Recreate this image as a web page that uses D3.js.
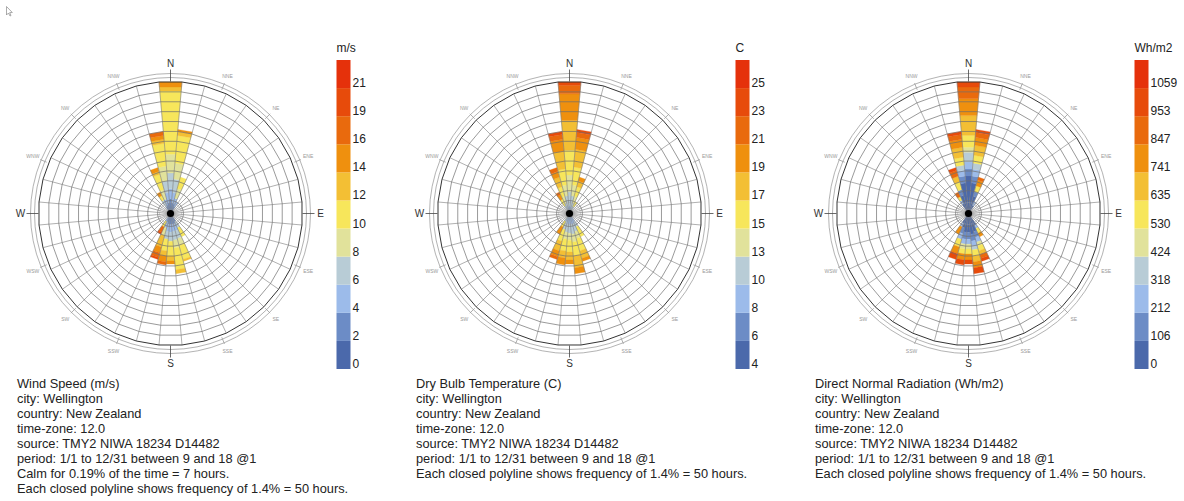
<!DOCTYPE html>
<html>
<head>
<meta charset="utf-8">
<script src="https://cdn.jsdelivr.net/npm/d3@7"></script>
<style>
  body { margin: 0; background: #fff; }
  svg { display: block; font-family: "Liberation Sans", Arial, sans-serif; }
</style>
</head>
<body>
<svg id="chart" width="1184" height="501"></svg>
<script>
// compass labels, 16 points
const compassLabels = ['N', 'NNE', 'NE', 'ENE', 'E', 'ESE', 'SE', 'SSE', 'S', 'SSW', 'SW', 'WSW', 'W', 'WNW', 'NW', 'NNW'];

// petal directions (deg clockwise from N), 36 sectors of 10 deg
const petalDirs = [0, 10, 20, 30, 150, 160, 170, 180, 190, 200, 210, 330, 340, 350];

// stacked segments per petal: [colour bin, outer edge in frequency rings]
const windStacks = [
  [[1, 1.2], [2, 2.2], [3, 3.8], [4, 5.7], [5, 12.1], [6, 12.5], [7, 13]],
  [[1, 0.8], [2, 1.8], [3, 3.2], [4, 4.8], [5, 7.6], [6, 8.0], [7, 8.2]],
  [[1, 0.7], [2, 1.3], [4, 2.3], [5, 3.5]],
  [[1, 0.5], [2, 1.0]],
  [[1, 0.6], [3, 1.3], [5, 2.3]],
  [[1, 0.8], [2, 1.5], [3, 2.3], [4, 3.0], [5, 4.5], [6, 4.7]],
  [[1, 0.8], [2, 1.5], [3, 2.4], [4, 3.2], [5, 5.4], [6, 5.8]],
  [[1, 0.8], [2, 1.6], [3, 2.5], [5, 4.0], [6, 4.5], [7, 4.8]],
  [[1, 0.8], [2, 1.5], [3, 2.3], [5, 3.5], [6, 4.0], [7, 4.6], [8, 4.9]],
  [[1, 0.6], [2, 1.2], [4, 2.0], [6, 3.2], [7, 3.8], [8, 4.3], [9, 4.5]],
  [[2, 0.6], [5, 1.2], [8, 1.8], [9, 2.0]],
  [[1, 0.5], [3, 1.2], [5, 1.7], [7, 2.1]],
  [[1, 0.6], [2, 1.2], [4, 2.2], [5, 3.8], [6, 4.1], [7, 4.5]],
  [[1, 0.8], [2, 1.8], [3, 3.0], [4, 4.5], [5, 6.8], [6, 7.2], [7, 7.6], [8, 8.0]],
];
const tempStacks = [
  [[2, 0.5], [3, 1.9], [4, 3.6], [5, 6.1], [6, 9.1], [7, 11.8], [8, 12.66], [9, 13]],
  [[2, 0.4], [3, 1.5], [4, 2.6], [5, 4.4], [6, 6.2], [7, 7.4], [8, 7.9], [9, 8.2]],
  [[3, 0.8], [4, 1.5], [5, 2.5], [6, 3.1], [7, 3.5]],
  [[3, 0.5], [5, 1.0]],
  [[2, 0.6], [3, 1.2], [5, 2.3]],
  [[2, 0.8], [3, 1.6], [4, 2.3], [5, 3.6], [6, 4.4], [7, 4.7]],
  [[2, 0.8], [3, 1.8], [4, 2.6], [5, 4.0], [6, 5.2], [7, 5.8]],
  [[2, 0.8], [3, 1.7], [4, 2.4], [5, 3.6], [6, 4.4], [7, 4.8]],
  [[2, 0.8], [3, 1.6], [4, 2.3], [5, 3.5], [6, 4.2], [7, 4.9]],
  [[2, 0.6], [3, 1.4], [5, 2.6], [6, 3.6], [7, 4.2], [8, 4.5]],
  [[3, 0.6], [5, 1.2], [7, 2.0]],
  [[3, 0.6], [5, 1.3], [7, 1.8], [8, 2.1]],
  [[3, 0.8], [4, 1.5], [5, 2.5], [6, 3.5], [7, 4.1], [8, 4.5]],
  [[2, 0.4], [3, 1.5], [4, 2.6], [5, 4.2], [6, 6.0], [7, 7.2], [8, 7.7], [9, 8.0]],
];
const radStacks = [
  [[0, 3.5], [1, 4.2], [2, 4.9], [3, 5.9], [4, 6.4], [5, 7.6], [6, 9.6], [7, 11.3], [8, 12.5], [9, 13]],
  [[0, 2.8], [1, 3.5], [2, 4.2], [3, 4.8], [5, 5.6], [6, 6.6], [7, 7.4], [8, 7.9], [9, 8.2]],
  [[0, 1.5], [1, 2.0], [5, 2.6], [7, 3.2], [8, 3.5]],
  [[0, 0.6], [2, 1.0]],
  [[0, 1.0], [2, 1.4], [5, 1.9], [7, 2.3]],
  [[0, 1.6], [1, 2.2], [2, 2.7], [4, 3.1], [5, 3.6], [6, 4.0], [8, 4.4], [9, 4.7]],
  [[0, 1.8], [1, 2.5], [2, 3.0], [3, 3.4], [5, 4.0], [6, 4.6], [7, 5.2], [9, 5.8]],
  [[0, 1.6], [1, 2.3], [2, 2.8], [4, 3.3], [5, 3.8], [7, 4.4], [9, 4.8]],
  [[0, 1.6], [1, 2.3], [2, 2.8], [4, 3.3], [5, 3.8], [7, 4.4], [9, 4.9]],
  [[0, 1.2], [1, 1.8], [2, 2.4], [5, 3.2], [7, 3.9], [9, 4.5]],
  [[0, 0.8], [2, 1.2], [7, 2.0]],
  [[0, 0.8], [2, 1.2], [5, 1.6], [8, 2.1]],
  [[0, 1.6], [1, 2.2], [5, 3.0], [6, 3.6], [8, 4.2], [9, 4.5]],
  [[0, 2.8], [1, 3.5], [2, 4.1], [3, 4.6], [5, 5.4], [6, 6.4], [7, 7.2], [8, 7.7], [9, 8.0]],
];

// legend colours, low to high
const legendColors = ['#4b69ab', '#6c8cc6', '#9cbbea', '#b8ccd6', '#e1e29b', '#f7e65b', '#f3bf34', '#ef900e', '#e96a0d', '#e74b0b', '#e5310b'];
const windTicks = ['0', '2', '4', '6', '8', '10', '12', '14', '16', '19', '21'];
const tempTicks = ['4', '6', '8', '10', '13', '15', '17', '19', '21', '23', '25'];
const radTicks = ['0', '106', '212', '318', '424', '530', '635', '741', '847', '953', '1059'];

const windInfo = ['Wind Speed (m/s)', 'city: Wellington', 'country: New Zealand', 'time-zone: 12.0', 'source: TMY2 NIWA 18234 D14482', 'period: 1/1 to 12/31 between 9 and 18 @1', 'Calm for 0.19% of the time = 7 hours.', 'Each closed polyline shows frequency of 1.4% = 50 hours.'];
const tempInfo = ['Dry Bulb Temperature (C)', 'city: Wellington', 'country: New Zealand', 'time-zone: 12.0', 'source: TMY2 NIWA 18234 D14482', 'period: 1/1 to 12/31 between 9 and 18 @1', 'Each closed polyline shows frequency of 1.4% = 50 hours.'];
const radInfo = ['Direct Normal Radiation (Wh/m2)', 'city: Wellington', 'country: New Zealand', 'time-zone: 12.0', 'source: TMY2 NIWA 18234 D14482', 'period: 1/1 to 12/31 between 9 and 18 @1', 'Each closed polyline shows frequency of 1.4% = 50 hours.'];

const roses = [
  { stacks: windStacks, ticks: windTicks, unit: 'm/s', info: windInfo },
  { stacks: tempStacks, ticks: tempTicks, unit: 'C', info: tempInfo },
  { stacks: radStacks, ticks: radTicks, unit: 'Wh/m2', info: radInfo },
];

const svg = d3.select('#chart');
const ringCount = 13;
const rScale = d3.scaleLinear().domain([0, ringCount]).range([3, 132]);
const color = d3.scaleOrdinal().domain(d3.range(11)).range(legendColors);
const legendY = d3.scaleLinear().domain([0, 11]).range([369, 60]);
const rad = (deg) => deg * Math.PI / 180;
const pt = (deg, r) => [r * Math.sin(rad(deg)), -r * Math.cos(rad(deg))];
const spokeAngles = d3.range(36).map((i) => i * 10 + 5);
const line = d3.line();

// mouse pointer left in the screenshot
svg.append('path').attr('d', 'M6.5,6.5 L6.5,15 L8.5,13 L10,16 L11,15.5 L9.7,12.6 L12.3,12.5 Z')
  .attr('fill', '#fff').attr('stroke', '#888').attr('stroke-width', 0.7);

function drawRose(cfg, i) {
  const cx = 170.5 + i * 399;
  const cy = 213.5;
  const g = svg.append('g').attr('transform', `translate(${cx},${cy})`);

  // petals
  petalDirs.forEach((dir, k) => {
    let inner = 0;
    cfg.stacks[k].forEach(([bin, outer]) => {
      const r0 = rScale(inner);
      const r1 = rScale(outer);
      const poly = [pt(dir - 5, r0), pt(dir - 5, r1), pt(dir + 5, r1), pt(dir + 5, r0)];
      g.append('path').attr('d', line(poly) + 'Z').attr('fill', color(bin)).attr('stroke', color(bin)).attr('stroke-width', 0.3);
      inner = outer;
    });
  });

  // spokes
  g.append('g').selectAll('line').data(spokeAngles).join('line')
    .attr('x1', 0).attr('y1', 0)
    .attr('x2', (a) => pt(a, rScale(ringCount))[0]).attr('y2', (a) => pt(a, rScale(ringCount))[1])
    .attr('stroke', '#7a7a7a').attr('stroke-width', 0.6);

  // frequency rings (closed polylines)
  g.append('g').selectAll('path').data(d3.range(1, ringCount + 1)).join('path')
    .attr('d', (u) => line(spokeAngles.map((a) => pt(a, rScale(u)))) + 'Z')
    .attr('fill', 'none')
    .attr('stroke', (u) => (u === ringCount ? '#333' : '#6e6e6e'))
    .attr('stroke-width', (u) => (u === ringCount ? 1 : 0.7));

  g.append('circle').attr('r', 11).attr('fill', 'none').attr('stroke', '#999').attr('stroke-width', 0.5);
  g.append('circle').attr('r', 3.6).attr('fill', '#000');

  // compass circles
  [136, 140].forEach((r) => {
    g.append('circle').attr('r', r).attr('fill', 'none').attr('stroke', '#a0a0a0').attr('stroke-width', 0.8);
  });

  compassLabels.forEach((lab, j) => {
    const a = j * 22.5;
    const major = j % 4 === 0;
    const [x1, y1] = pt(a, major ? 132 : 134);
    const [x2, y2] = pt(a, major ? 144 : 141);
    g.append('line').attr('x1', x1).attr('y1', y1).attr('x2', x2).attr('y2', y2)
      .attr('stroke', major ? '#444' : '#999').attr('stroke-width', 0.8);
    const [lx, ly] = pt(a, major ? 150 : 149);
    g.append('text').attr('x', lx).attr('y', ly)
      .attr('text-anchor', 'middle').attr('dominant-baseline', 'central')
      .attr('font-size', major ? 10 : 5).attr('fill', major ? '#333' : '#999')
      .text(lab);
  });

  // legend
  const lx = cx + 166;
  const lg = svg.append('g');
  lg.selectAll('rect').data(d3.range(11)).join('rect')
    .attr('x', lx).attr('width', 14)
    .attr('y', (b) => legendY(b + 1)).attr('height', (b) => legendY(b) - legendY(b + 1))
    .attr('fill', (b) => color(b));
  lg.selectAll('text.tk').data(cfg.ticks).join('text').attr('class', 'tk')
    .attr('x', lx + 16).attr('y', (t, b) => legendY(b) - 1)
    .attr('font-size', 12).attr('fill', '#222').text((t) => t);
  lg.append('text').attr('x', lx).attr('y', 52).attr('font-size', 12).attr('fill', '#222').text(cfg.unit);

  // info text
  svg.append('g').selectAll('text').data(cfg.info).join('text')
    .attr('x', cx - 153.5).attr('y', (t, k) => 387.5 + k * 15.1)
    .attr('font-size', 12.8).attr('fill', '#222').text((t) => t);
}

roses.forEach(drawRose);
</script>
</body>
</html>
